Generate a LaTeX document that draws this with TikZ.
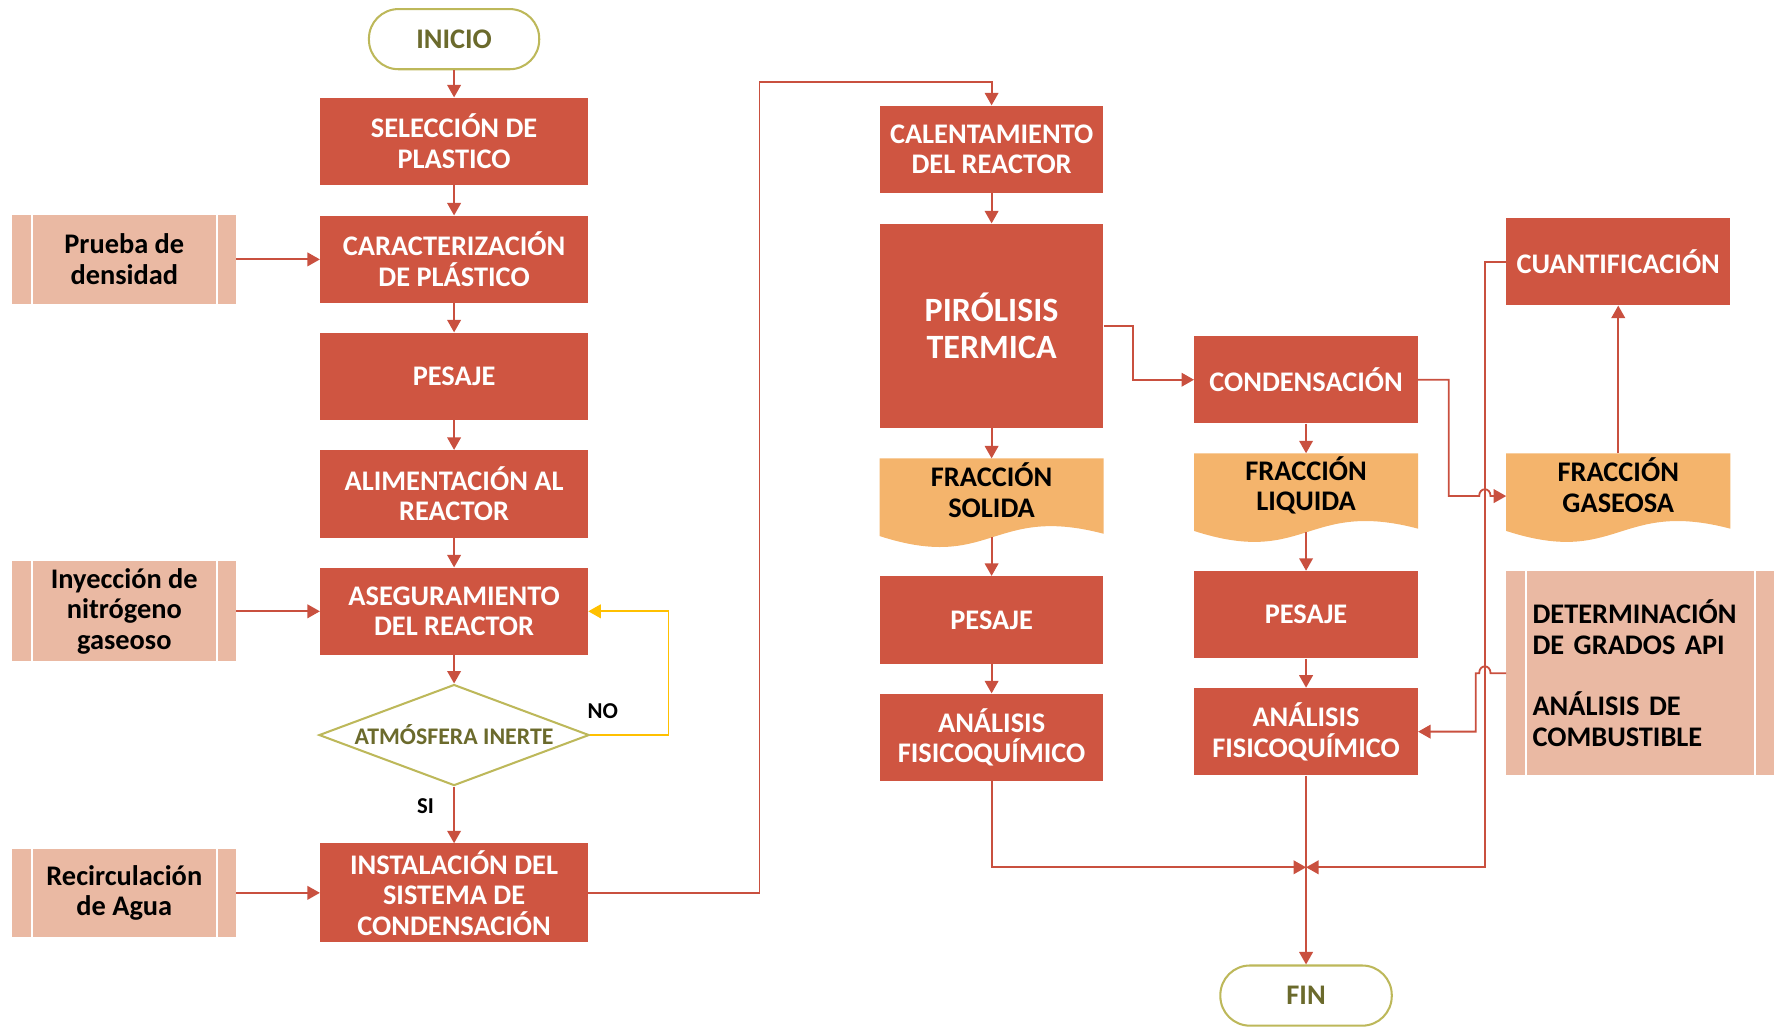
\documentclass[tikz,border=0pt]{standalone}
\usepackage{fontspec}
\setmainfont{Carlito}
\usetikzlibrary{arrows.meta,shapes.geometric}

\definecolor{rojo}{HTML}{CF5541}
\definecolor{linea}{HTML}{C9503F}
\definecolor{rosa}{HTML}{EAB9A3}
\definecolor{naranja}{HTML}{F4B46C}
\definecolor{oliva}{HTML}{BDB85A}
\definecolor{olivatexto}{HTML}{6B6A2C}
\definecolor{amarillo}{HTML}{FFC000}

\pgfdeclarelayer{fondo}
\pgfsetlayers{fondo,main}

\tikzset{
  txt/.style={font=\bfseries\fontsize{25}{27}\selectfont, align=center, inner sep=0pt},
  proceso/.style={txt, rectangle, fill=rojo, text=white, minimum width=197pt, minimum height=77pt},
  ancho/.style={minimum width=236pt},
  extremo/.style={txt, rectangle, rounded corners=26pt, draw=oliva, line width=1.8pt, fill=white,
    text=olivatexto, minimum width=150pt, minimum height=53pt},
  decision/.style={txt, diamond, aspect=2.67, draw=oliva, line width=1.8pt, text=olivatexto,
    font=\bfseries\fontsize{21}{23}\selectfont, minimum width=238pt, minimum height=89pt},
  entrada/.style={txt, rectangle, fill=rosa, text=black, minimum width=197pt, minimum height=78pt,
    path picture={\draw[white, line width=1.5pt]
      ([xshift=17pt]path picture bounding box.north west) -- ([xshift=17pt]path picture bounding box.south west)
      ([xshift=-17pt]path picture bounding box.north east) -- ([xshift=-17pt]path picture bounding box.south east);}},
  fraccion/.style={txt, rectangle, text=black, minimum width=197pt, minimum height=56pt},
  flujo/.style={draw=linea, line width=1.6pt, -{Triangle[length=11pt,width=12pt]}},
  rotulo/.style={font=\bfseries\fontsize{20}{22}\selectfont, inner sep=0pt},
}

\begin{document}
\begin{tikzpicture}[x=1pt, y=-1pt]
  \useasboundingbox (0,0) rectangle (1568,904);
  % columna izquierda
  \node[extremo] (ini) at (400,34.5) {INICIO};
  \foreach \n/\y/\texto in {sel/124.5/{SELECCIÓN DE\\PLASTICO}, car/228.5/{CARACTERIZACIÓN\\DE PLÁSTICO},
      pes/331.5/PESAJE, ali/435/{ALIMENTACIÓN AL\\REACTOR}, ase/538.5/{ASEGURAMIENTO\\DEL REACTOR}}
    \node[proceso, ancho] (\n) at (400,\y) {\texto};
  \node[decision] (atm) at (400,647.5) {ATMÓSFERA INERTE};
  \node[proceso, ancho, minimum height=87pt] (ins) at (400,786.5) {INSTALACIÓN DEL\\SISTEMA DE\\CONDENSACIÓN};
  \node[entrada] (pru) at (109.5,228.5) {Prueba de\\densidad};
  \node[entrada, minimum height=88pt] (iny) at (109.5,538.5) {Inyección de\\nitrógeno\\gaseoso};
  \node[entrada] (rec) at (109.5,786.5) {Recirculación\\de Agua};
  % columna central
  \node[proceso] (cal) at (873.5,131.5) {CALENTAMIENTO\\DEL REACTOR};
  \node[proceso, minimum height=180pt, font=\bfseries\fontsize{30}{32}\selectfont] (pir) at (873.5,287) {PIRÓLISIS\\TERMICA};
  \node[fraccion] (fs) at (873.5,432) {FRACCIÓN\\SOLIDA};
  \node[proceso] (pe2) at (873.5,546) {PESAJE};
  \node[proceso] (an2) at (873.5,649.5) {ANÁLISIS\\FISICOQUÍMICO};
  % condensado
  \node[proceso] (con) at (1150.5,334.5) {CONDENSACIÓN};
  \node[fraccion] (fl) at (1150.5,427.5) {FRACCIÓN\\LIQUIDA};
  \node[proceso] (pe3) at (1150.5,541.5) {PESAJE};
  \node[proceso] (an3) at (1150.5,644.5) {ANÁLISIS\\FISICOQUÍMICO};
  \node[extremo, minimum width=151pt] (fin) at (1150.5,877) {FIN};
  % gases
  \node[proceso] (cua) at (1425.5,230.5) {CUANTIFICACIÓN};
  \node[fraccion] (fg) at (1425.5,427.5) {FRACCIÓN\\GASEOSA};
  \node[entrada, minimum width=236pt, minimum height=180pt, text width=190pt, align=left] (det) at (1445,593)
    {DETERMINACIÓN\\DE GRADOS API\\[27pt]ANÁLISIS DE\\COMBUSTIBLE};
  \begin{pgfonlayer}{fondo}
    \foreach \f in {fs,fl,fg}
      \fill[naranja] (\f.north west) -- (\f.north east) -- ([yshift=-10pt]\f.south east)
        .. controls ([yshift=16pt]\f.south) and ([yshift=-44pt]\f.south) .. ([yshift=-12pt]\f.south west) -- cycle;
  \end{pgfonlayer}

  % conectores
  \foreach \a/\b in {ini/sel, sel/car, car/pes, pes/ali, ali/ase, ase/atm, cal/pir, pir/fs, pe2/an2,
      con/fl, pe3/an3, an3/fin}
    \draw[flujo] (\a.south) -- (\b.north);
  \draw[flujo] (atm.south) -- node[rotulo, pos=0.35, left=17pt] (si) {SI} (ins.north);
  \draw[flujo, draw=amarillo] (atm.east) -- ++(69,0) |- (ase.east);
  \node[rotulo] (no) at (531,626) {NO};
  \draw[flujo] (pru.east) -- (car.west);
  \draw[flujo] (iny.east) -- (ase.west);
  \draw[flujo] (rec.east) -- (ins.west);
  \coordinate (sube) at (669,72);
  \draw[flujo] (ins.east) -| (sube) -| (cal.north);
  \draw[flujo] ([yshift=-13pt]fs.south) -- (pe2.north);
  \draw[flujo] ([yshift=-13pt]fl.south) -- (pe3.north);
  \draw[flujo] (pir.east) -- ++(26,0) |- (con.west);
  \draw[flujo] (fg.north) -- (cua.south);
  \coordinate (jn) at (1150.5,764);
  \coordinate (bus) at (1308,764);
  \draw[flujo] (an2.south) |- (jn);
  \draw[flujo] (cua.west) -| (bus) -- (jn);
  \draw[flujo] (con.east) -- ++(27,0) |- (1303,437) .. controls (1303,429) and (1313,429) .. (1313,437)
    -- ([yshift=-9.5pt]fg.west);
  \draw[flujo] (det.west) -- (1313,593) .. controls (1313,585) and (1303,585) .. (1303,593)
    -- (1300,593) |- (an3.east);
\end{tikzpicture}
\end{document}
